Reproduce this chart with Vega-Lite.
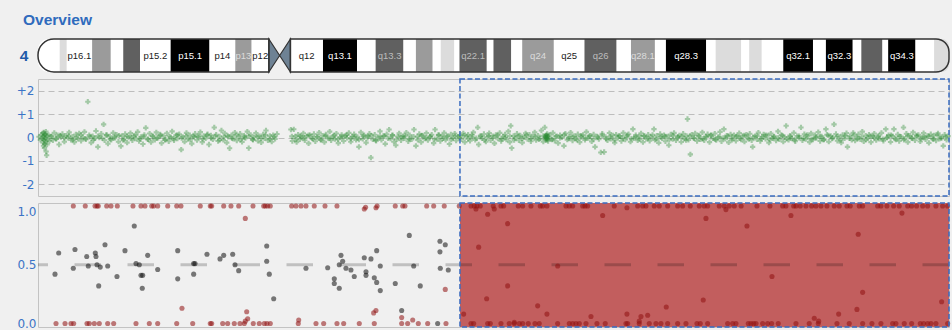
{
"$schema":"https://vega.github.io/schema/vega-lite/v6.json",
"background":"#f0f0f0",
"padding":{"left":7,"top":13,"right":0,"bottom":0},
"title":{"text":"Overview","anchor":"start","font":"Liberation Sans","fontSize":15.5,"fontWeight":"bold","color":"#2f6bbd","dx":15.5,"offset":8},
"bounds":"flush",
"spacing":7,
"resolve":{"scale":{"color":"independent","fill":"independent"}},
"config":{"view":{"stroke":"#c3c3c3","fill":"#f0f0f0"},"axis":{"labelFont":"DejaVu Sans","labelFontSize":12,"labelColor":"#3b74c6","ticks":false,"domain":false,"labelOverlap":false}},
"datasets":{
"bands":[
{"s":0,"e":4.5,"n":"p16.3","t":"gneg"},{"s":4.5,"e":6.0,"n":"p16.2","t":"gpos25"},{"s":6.0,"e":11.3,"n":"p16.1","t":"gneg"},{"s":11.3,"e":15.2,"n":"p15.33","t":"gpos50"},{"s":15.2,"e":17.8,"n":"p15.32","t":"gneg"},{"s":17.8,"e":21.3,"n":"p15.31","t":"gpos75"},{"s":21.3,"e":27.7,"n":"p15.2","t":"gneg"},{"s":27.7,"e":35.8,"n":"p15.1","t":"gpos100"},{"s":35.8,"e":41.2,"n":"p14","t":"gneg"},{"s":41.2,"e":44.6,"n":"p13","t":"gpos50"},{"s":44.6,"e":48.2,"n":"p12","t":"gneg"},
{"s":52.7,"e":59.5,"n":"q12","t":"gneg"},{"s":59.5,"e":66.6,"n":"q13.1","t":"gpos100"},{"s":66.6,"e":70.5,"n":"q13.2","t":"gneg"},{"s":70.5,"e":76.3,"n":"q13.3","t":"gpos75"},{"s":76.3,"e":78.9,"n":"q21.1","t":"gneg"},{"s":78.9,"e":82.4,"n":"q21.21","t":"gpos50"},{"s":82.4,"e":84.1,"n":"q21.22","t":"gneg"},{"s":84.1,"e":86.9,"n":"q21.23","t":"gpos25"},{"s":86.9,"e":88.0,"n":"q21.3","t":"gneg"},{"s":88.0,"e":93.7,"n":"q22.1","t":"gpos75"},{"s":93.7,"e":95.1,"n":"q22.2","t":"gneg"},{"s":95.1,"e":98.8,"n":"q22.3","t":"gpos75"},{"s":98.8,"e":101.1,"n":"q23","t":"gneg"},{"s":101.1,"e":107.7,"n":"q24","t":"gpos50"},{"s":107.7,"e":114.1,"n":"q25","t":"gneg"},{"s":114.1,"e":120.8,"n":"q26","t":"gpos75"},{"s":120.8,"e":123.8,"n":"q27","t":"gneg"},{"s":123.8,"e":128.8,"n":"q28.1","t":"gpos50"},{"s":128.8,"e":131.1,"n":"q28.2","t":"gneg"},{"s":131.1,"e":139.5,"n":"q28.3","t":"gpos100"},{"s":139.5,"e":141.5,"n":"q31.1","t":"gneg"},{"s":141.5,"e":146.8,"n":"q31.21","t":"gpos25"},{"s":146.8,"e":148.5,"n":"q31.22","t":"gneg"},{"s":148.5,"e":151.1,"n":"q31.23","t":"gpos25"},{"s":151.1,"e":155.6,"n":"q31.3","t":"gneg"},{"s":155.6,"e":161.8,"n":"q32.1","t":"gpos100"},{"s":161.8,"e":164.5,"n":"q32.2","t":"gneg"},{"s":164.5,"e":170.1,"n":"q32.3","t":"gpos100"},{"s":170.1,"e":171.9,"n":"q33","t":"gneg"},{"s":171.9,"e":176.3,"n":"q34.1","t":"gpos75"},{"s":176.3,"e":177.5,"n":"q34.2","t":"gneg"},{"s":177.5,"e":183.2,"n":"q34.3","t":"gpos100"},{"s":183.2,"e":187.1,"n":"q35.1","t":"gneg"},{"s":187.1,"e":190.2,"n":"q35.2","t":"gpos25"}],
"labels":[{"n":"p16.1","m":8.65,"t":"gneg"},{"n":"p15.2","m":24.5,"t":"gneg"},{"n":"p15.1","m":31.75,"t":"gpos100"},{"n":"p14","m":38.5,"t":"gneg"},{"n":"p13","m":42.9,"t":"gpos50"},{"n":"p12","m":46.4,"t":"gneg"},{"n":"q12","m":56.1,"t":"gneg"},{"n":"q13.1","m":63.05,"t":"gpos100"},{"n":"q13.3","m":73.4,"t":"gpos75"},{"n":"q22.1","m":90.85,"t":"gpos75"},{"n":"q24","m":104.4,"t":"gpos50"},{"n":"q25","m":110.9,"t":"gneg"},{"n":"q26","m":117.45,"t":"gpos75"},{"n":"q28.1","m":126.3,"t":"gpos50"},{"n":"q28.3","m":135.3,"t":"gpos100"},{"n":"q32.1","m":158.7,"t":"gpos100"},{"n":"q32.3","m":167.3,"t":"gpos100"},{"n":"q34.3","m":180.35,"t":"gpos100"}],
"lr":[
{"p":0.2,"v":0.03},{"p":0.5,"v":-0.1},{"p":0.7,"v":0.12},{"p":0.9,"v":-0.05},{"p":1.0,"v":0.18},{"p":1.05,"v":-0.22},{"p":1.1,"v":0.06},{"p":1.15,"v":-0.35},{"p":1.2,"v":0.22},{"p":1.25,"v":-0.12},{"p":1.3,"v":0.0},{"p":1.35,"v":-0.45},{"p":1.4,"v":0.1},{"p":1.45,"v":-0.28},{"p":1.5,"v":0.15},{"p":1.55,"v":-0.05},{"p":1.6,"v":-0.18},{"p":1.65,"v":0.25},{"p":1.7,"v":-0.6},{"p":1.8,"v":-0.76},{"p":1.85,"v":0.08},{"p":1.9,"v":-0.3},{"p":2.0,"v":-0.08},{"p":2.2,"v":0.1},{"p":2.4,"v":-0.15},
{"p":2.7,"v":0.05},{"p":3.1,"v":-0.12},{"p":3.4,"v":0.2},{"p":3.8,"v":-0.05},{"p":4.1,"v":0.1},{"p":4.4,"v":-0.3},{"p":4.8,"v":0.02},{"p":5.1,"v":0.15},{"p":5.5,"v":-0.18},{"p":5.8,"v":0.08},{"p":6.2,"v":-0.02},{"p":6.5,"v":0.22},{"p":6.9,"v":-0.1},{"p":7.2,"v":0.04},{"p":7.6,"v":-0.2},{"p":7.9,"v":0.13},{"p":8.3,"v":-0.06},{"p":8.6,"v":0.18},{"p":9.0,"v":-0.14},{"p":9.3,"v":0.01},{"p":9.7,"v":0.24},{"p":10.0,"v":-0.08},{"p":10.4,"v":1.53},{"p":10.7,"v":0.1},{"p":11.1,"v":-0.22},{"p":11.4,"v":0.06},{"p":11.8,"v":-0.04},{"p":12.1,"v":0.28},{"p":12.5,"v":-0.4},{"p":12.8,"v":0.0},{"p":13.2,"v":0.16},{"p":13.7,"v":0.56},{"p":13.9,"v":-0.12},{"p":14.3,"v":0.09},{"p":14.6,"v":-0.26},{"p":15.0,"v":0.05},{"p":15.3,"v":-0.1},{"p":15.7,"v":0.2},{"p":16.0,"v":-0.03},{"p":16.4,"v":0.12},{"p":16.8,"v":-0.18},{"p":17.3,"v":-0.37},{"p":17.5,"v":0.07},{"p":17.9,"v":-0.08},{"p":18.2,"v":0.15},{"p":18.6,"v":-0.22},{"p":18.9,"v":0.02},{"p":19.3,"v":0.19},{"p":19.7,"v":-0.12},{"p":20.0,"v":0.08},{"p":20.4,"v":-0.05},{"p":20.8,"v":0.24},{"p":21.1,"v":-0.15},{"p":21.5,"v":0.03},{"p":21.9,"v":-0.28},{"p":22.2,"v":0.11},{"p":22.5,"v":0.41},{"p":22.9,"v":-0.07},{"p":23.3,"v":0.17},{"p":23.6,"v":-0.2},{"p":24.0,"v":0.04},{"p":24.4,"v":-0.1},{"p":24.7,"v":0.22},{"p":25.1,"v":-0.02},{"p":25.5,"v":0.13},{"p":25.8,"v":-0.24},{"p":26.2,"v":0.06},{"p":26.6,"v":-0.09},{"p":26.9,"v":0.18},{"p":27.3,"v":-0.16},{"p":27.7,"v":0.01},{"p":28.0,"v":0.26},{"p":28.4,"v":-0.12},{"p":28.8,"v":0.09},{"p":29.1,"v":-0.05},{"p":29.5,"v":0.14},{"p":29.9,"v":-0.52},{"p":30.2,"v":0.03},{"p":30.6,"v":-0.18},{"p":31.0,"v":0.2},{"p":31.3,"v":-0.07},{"p":31.7,"v":0.1},{"p":32.1,"v":-0.26},{"p":32.4,"v":0.05},{"p":32.8,"v":0.16},{"p":33.2,"v":-0.11},{"p":33.5,"v":0.02},{"p":33.9,"v":0.23},{"p":34.3,"v":-0.2},{"p":34.6,"v":0.07},{"p":35.0,"v":-0.04},{"p":35.4,"v":0.14},{"p":35.7,"v":-0.3},{"p":36.1,"v":0.09},{"p":36.5,"v":-0.08},{"p":36.8,"v":0.43},{"p":37.2,"v":0.12},{"p":37.6,"v":-0.15},{"p":37.9,"v":0.05},{"p":38.3,"v":0.3},{"p":38.7,"v":-0.1},{"p":39.0,"v":0.18},{"p":39.4,"v":-0.22},{"p":39.7,"v":0.03},{"p":40.0,"v":-0.46},{"p":40.4,"v":0.1},{"p":40.8,"v":-0.06},{"p":41.1,"v":0.21},{"p":41.5,"v":-0.13},{"p":41.9,"v":0.04},{"p":42.2,"v":0.16},{"p":42.6,"v":-0.19},{"p":43.0,"v":0.08},{"p":43.3,"v":-0.03},{"p":43.7,"v":0.25},{"p":44.0,"v":-0.45},{"p":44.4,"v":0.11},{"p":44.8,"v":-0.08},{"p":45.1,"v":0.02},{"p":45.5,"v":0.19},{"p":45.9,"v":-0.14},{"p":46.2,"v":0.06},{"p":46.6,"v":-0.21},{"p":47.0,"v":0.13},{"p":47.3,"v":-0.04},{"p":47.6,"v":0.3},{"p":48.0,"v":-0.12},{"p":48.4,"v":0.07},{"p":48.8,"v":-0.18},{"p":49.1,"v":0.1},{"p":49.5,"v":-0.06},{"p":49.9,"v":0.15},
{"p":52.8,"v":0.34},{"p":53.1,"v":-0.15},{"p":53.4,"v":0.35},{"p":53.7,"v":0.05},{"p":54.0,"v":-0.2},{"p":54.3,"v":0.12},{"p":54.7,"v":-0.08},{"p":55.0,"v":0.02},{"p":55.4,"v":0.18},{"p":55.7,"v":-0.12},{"p":56.1,"v":0.06},{"p":56.5,"v":-0.25},{"p":56.8,"v":0.1},{"p":57.2,"v":-0.04},{"p":57.6,"v":0.15},{"p":57.9,"v":-0.16},{"p":58.3,"v":0.03},{"p":58.7,"v":0.21},{"p":59.0,"v":-0.09},{"p":59.4,"v":0.08},{"p":59.8,"v":-0.2},{"p":60.1,"v":0.13},{"p":60.5,"v":-0.03},{"p":60.9,"v":0.25},{"p":61.2,"v":-0.12},{"p":61.6,"v":0.05},{"p":62.0,"v":-0.07},{"p":62.3,"v":0.17},{"p":62.7,"v":-0.24},{"p":63.1,"v":0.01},{"p":63.4,"v":0.11},{"p":63.8,"v":-0.15},{"p":64.2,"v":0.07},{"p":64.5,"v":-0.02},{"p":64.9,"v":0.2},{"p":65.3,"v":-0.18},{"p":65.6,"v":0.04},{"p":66.0,"v":0.14},{"p":66.4,"v":-0.1},{"p":66.7,"v":0.03},{"p":67.0,"v":-0.4},{"p":67.4,"v":0.22},{"p":67.8,"v":-0.06},{"p":68.1,"v":0.1},{"p":68.5,"v":-0.22},{"p":68.9,"v":0.05},{"p":69.2,"v":0.16},{"p":69.5,"v":-0.86},{"p":69.9,"v":-0.08},{"p":70.3,"v":0.12},{"p":70.6,"v":-0.14},{"p":71.0,"v":0.02},{"p":71.4,"v":0.26},{"p":71.7,"v":-0.1},{"p":72.1,"v":0.07},{"p":72.5,"v":-0.27},{"p":72.8,"v":0.14},{"p":73.3,"v":0.34},{"p":73.6,"v":-0.05},{"p":74.0,"v":0.09},{"p":74.3,"v":-0.18},{"p":74.7,"v":-0.33},{"p":75.1,"v":0.04},{"p":75.4,"v":0.18},{"p":75.8,"v":-0.12},{"p":76.2,"v":0.06},{"p":76.5,"v":-0.04},{"p":76.9,"v":0.21},{"p":77.3,"v":-0.16},{"p":77.6,"v":0.1},{"p":78.0,"v":-0.08},{"p":78.5,"v":0.34},{"p":78.9,"v":-0.36},{"p":79.2,"v":0.03},{"p":79.6,"v":0.15},{"p":80.0,"v":-0.2},{"p":80.3,"v":0.08},{"p":80.7,"v":-0.05},{"p":81.1,"v":0.19},{"p":81.4,"v":-0.11},{"p":81.8,"v":0.02},{"p":82.2,"v":0.12},{"p":82.6,"v":-0.24},{"p":82.9,"v":0.34},{"p":83.3,"v":-0.07},{"p":83.7,"v":0.1},{"p":84.0,"v":-0.15},{"p":84.4,"v":0.05},{"p":84.8,"v":0.2},{"p":85.1,"v":-0.1},{"p":85.5,"v":0.07},{"p":85.9,"v":-0.28},{"p":86.2,"v":0.13},{"p":86.6,"v":-0.02},{"p":87.0,"v":0.17},{"p":87.3,"v":-0.13},{"p":87.7,"v":0.04},
{"p":88.1,"v":0.1},{"p":88.4,"v":-0.08},{"p":88.8,"v":0.18},{"p":89.1,"v":-0.2},{"p":89.5,"v":0.05},{"p":89.8,"v":0.12},{"p":90.2,"v":-0.14},{"p":90.6,"v":0.02},{"p":90.9,"v":0.22},{"p":91.3,"v":-0.1},{"p":91.8,"v":0.43},{"p":92.0,"v":-0.3},{"p":92.4,"v":0.08},{"p":92.7,"v":-0.04},{"p":93.1,"v":0.15},{"p":93.5,"v":-0.18},{"p":93.8,"v":0.03},{"p":94.2,"v":0.19},{"p":94.5,"v":-0.12},{"p":94.9,"v":0.06},{"p":95.3,"v":-0.25},{"p":95.6,"v":0.11},{"p":96.0,"v":-0.05},{"p":96.4,"v":0.2},{"p":96.7,"v":-0.15},{"p":97.1,"v":0.04},{"p":97.5,"v":0.13},{"p":97.8,"v":-0.09},{"p":98.2,"v":0.26},{"p":98.5,"v":-0.2},{"p":98.7,"v":0.5},{"p":98.9,"v":-0.45},{"p":99.3,"v":0.07},{"p":99.6,"v":-0.03},{"p":100.0,"v":0.16},{"p":100.4,"v":-0.12},{"p":100.7,"v":0.09},{"p":101.1,"v":-0.22},{"p":101.5,"v":0.02},{"p":101.8,"v":0.18},{"p":102.2,"v":-0.07},{"p":102.6,"v":0.12},{"p":102.9,"v":-0.16},{"p":103.3,"v":0.05},{"p":103.7,"v":0.22},{"p":104.0,"v":-0.11},{"p":104.4,"v":0.08},{"p":104.8,"v":-0.04},{"p":105.1,"v":0.3},{"p":105.5,"v":-0.18},{"p":105.8,"v":0.43},{"p":105.9,"v":0.05},{"p":106.0,"v":-0.05},{"p":106.05,"v":0.1},{"p":106.1,"v":0.0},{"p":106.15,"v":-0.12},{"p":106.2,"v":0.08},{"p":106.25,"v":-0.02},{"p":106.3,"v":0.15},{"p":106.35,"v":-0.08},{"p":106.4,"v":0.03},{"p":106.5,"v":-0.15},{"p":106.8,"v":0.12},{"p":107.2,"v":-0.06},{"p":107.5,"v":0.2},{"p":107.9,"v":-0.14},{"p":108.3,"v":0.06},{"p":108.6,"v":-0.24},{"p":109.0,"v":0.1},{"p":109.4,"v":0.01},{"p":109.8,"v":-0.36},{"p":110.1,"v":0.17},{"p":110.5,"v":-0.09},{"p":110.9,"v":0.04},{"p":111.2,"v":0.21},{"p":111.6,"v":-0.13},{"p":112.0,"v":0.07},{"p":112.3,"v":-0.05},{"p":112.7,"v":0.14},{"p":113.1,"v":-0.2},{"p":113.4,"v":0.02},{"p":113.8,"v":0.11},{"p":114.2,"v":-0.1},{"p":114.5,"v":0.24},{"p":114.9,"v":-0.03},{"p":115.3,"v":0.08},{"p":115.6,"v":-0.17},{"p":116.0,"v":0.13},{"p":116.3,"v":-0.4},{"p":116.7,"v":0.05},{"p":117.1,"v":-0.07},{"p":117.5,"v":-0.64},{"p":117.8,"v":0.16},{"p":118.2,"v":-0.62},{"p":118.5,"v":0.03},{"p":118.9,"v":-0.12},{"p":119.3,"v":0.19},{"p":119.6,"v":-0.06},{"p":120.0,"v":0.09},{"p":120.4,"v":-0.22},{"p":120.7,"v":0.12},{"p":121.1,"v":-0.02},{"p":121.5,"v":0.06},{"p":121.8,"v":-0.15},{"p":122.2,"v":0.2},{"p":122.6,"v":-0.09},{"p":122.9,"v":0.03},{"p":123.3,"v":0.14},{"p":123.7,"v":-0.18},{"p":124.2,"v":0.36},{"p":124.4,"v":-0.04},{"p":124.8,"v":0.1},{"p":125.2,"v":-0.12},{"p":125.5,"v":0.05},{"p":125.9,"v":0.18},{"p":126.3,"v":-0.2},{"p":126.6,"v":0.07},{"p":127.0,"v":-0.06},{"p":127.4,"v":0.12},{"p":127.7,"v":-0.14},{"p":128.1,"v":0.02},{"p":128.6,"v":0.36},{"p":128.8,"v":-0.1},{"p":129.2,"v":0.08},{"p":129.6,"v":-0.23},{"p":129.9,"v":0.15},{"p":130.3,"v":-0.04},{"p":130.7,"v":0.1},{"p":131.0,"v":-0.16},{"p":131.4,"v":0.05},{"p":131.7,"v":-0.33},{"p":132.1,"v":0.13},{"p":132.5,"v":-0.07},{"p":132.8,"v":0.2},{"p":133.2,"v":-0.12},{"p":133.6,"v":0.03},{"p":133.9,"v":0.09},{"p":134.3,"v":-0.19},{"p":134.7,"v":0.16},{"p":135.0,"v":-0.05},{"p":135.4,"v":0.07},{"p":135.6,"v":0.79},{"p":135.8,"v":-0.1},{"p":136.2,"v":-0.72},{"p":136.5,"v":0.12},{"p":136.9,"v":-0.02},{"p":137.2,"v":0.18},{"p":137.6,"v":-0.15},{"p":138.0,"v":0.06},{"p":138.3,"v":-0.08},{"p":138.7,"v":0.22},{"p":139.1,"v":-0.12},{"p":139.4,"v":0.04},{"p":139.8,"v":0.14},{"p":140.2,"v":-0.2},{"p":140.5,"v":0.09},{"p":140.9,"v":-0.04},{"p":141.3,"v":0.17},{"p":141.6,"v":-0.11},{"p":142.0,"v":0.02},{"p":142.4,"v":0.24},{"p":142.7,"v":-0.16},{"p":143.2,"v":0.36},{"p":143.5,"v":-0.06},{"p":143.8,"v":0.08},{"p":144.2,"v":-0.21},{"p":144.6,"v":0.13},{"p":144.9,"v":-0.03},{"p":145.3,"v":0.1},{"p":145.7,"v":-0.14},{"p":146.0,"v":0.05},{"p":146.4,"v":0.19},{"p":146.8,"v":-0.09},{"p":147.1,"v":0.07},{"p":147.5,"v":-0.18},{"p":147.9,"v":0.12},{"p":148.2,"v":-0.02},{"p":148.6,"v":0.16},{"p":149.0,"v":-0.12},{"p":149.2,"v":-0.4},{"p":149.7,"v":0.06},{"p":150.1,"v":-0.08},{"p":150.4,"v":0.21},{"p":150.8,"v":-0.15},{"p":151.2,"v":0.03},{"p":151.5,"v":0.13},{"p":151.9,"v":-0.06},{"p":152.3,"v":0.09},{"p":152.6,"v":-0.22},{"p":153.0,"v":0.17},{"p":153.4,"v":-0.04},{"p":153.7,"v":0.05},{"p":154.1,"v":-0.13},{"p":154.5,"v":0.26},{"p":154.8,"v":-0.08},{"p":155.2,"v":0.11},{"p":155.6,"v":-0.18},{"p":155.9,"v":0.02},{"p":156.2,"v":0.5},{"p":156.7,"v":-0.1},{"p":157.0,"v":0.08},{"p":157.4,"v":-0.05},{"p":157.8,"v":0.2},{"p":158.1,"v":-0.16},{"p":158.5,"v":0.06},{"p":158.9,"v":-0.02},{"p":159.3,"v":0.43},{"p":159.6,"v":-0.12},{"p":160.0,"v":0.14},{"p":160.3,"v":-0.07},{"p":160.7,"v":0.04},{"p":161.1,"v":-0.2},{"p":161.4,"v":0.18},{"p":161.8,"v":-0.09},{"p":162.2,"v":0.1},{"p":162.5,"v":-0.03},{"p":162.9,"v":0.23},{"p":163.3,"v":-0.15},{"p":163.6,"v":0.05},{"p":164.0,"v":-0.1},{"p":164.5,"v":0.36},{"p":164.7,"v":0.12},{"p":165.1,"v":-0.18},{"p":165.5,"v":0.07},{"p":165.8,"v":-0.05},{"p":166.2,"v":0.56},{"p":166.6,"v":0.15},{"p":166.9,"v":-0.14},{"p":167.3,"v":0.03},{"p":167.7,"v":-0.22},{"p":168.0,"v":0.11},{"p":168.4,"v":-0.04},{"p":168.8,"v":0.19},{"p":169.0,"v":-0.4},{"p":169.5,"v":0.06},{"p":169.9,"v":-0.1},{"p":170.2,"v":0.2},{"p":170.6,"v":-0.13},{"p":171.0,"v":0.02},{"p":171.3,"v":0.14},{"p":171.7,"v":-0.08},{"p":172.1,"v":0.25},{"p":172.4,"v":-0.17},{"p":172.8,"v":0.08},{"p":173.2,"v":-0.03},{"p":173.5,"v":0.12},{"p":173.9,"v":-0.2},{"p":174.3,"v":0.05},{"p":174.6,"v":0.17},{"p":175.0,"v":-0.11},{"p":175.4,"v":0.03},{"p":175.7,"v":-0.06},{"p":176.1,"v":0.2},{"p":176.5,"v":-0.14},{"p":177.0,"v":0.36},{"p":177.2,"v":-0.02},{"p":177.6,"v":0.1},{"p":178.0,"v":-0.19},{"p":178.4,"v":0.06},{"p":178.7,"v":0.36},{"p":179.1,"v":-0.09},{"p":179.5,"v":0.13},{"p":179.8,"v":-0.15},{"p":180.2,"v":0.04},{"p":180.7,"v":0.43},{"p":180.9,"v":-0.05},{"p":181.3,"v":0.16},{"p":181.6,"v":-0.2},{"p":182.0,"v":0.08},{"p":182.4,"v":-0.03},{"p":182.7,"v":0.22},{"p":183.1,"v":-0.12},{"p":183.5,"v":0.05},{"p":183.8,"v":0.11},{"p":184.2,"v":-0.17},{"p":184.6,"v":0.02},{"p":184.9,"v":0.19},{"p":185.3,"v":-0.08},{"p":185.7,"v":0.07},{"p":186.0,"v":-0.23},{"p":186.4,"v":0.14},{"p":186.8,"v":-0.04},{"p":187.1,"v":0.09},{"p":187.5,"v":-0.13},{"p":187.9,"v":0.18},{"p":188.2,"v":-0.06},{"p":188.6,"v":0.03},{"p":189.0,"v":-0.36},{"p":189.3,"v":0.12},{"p":189.7,"v":-0.1},{"p":190.0,"v":0.06},
{"p":2.9,"v":0.04},{"p":3.8,"v":-0.06},{"p":4.6,"v":0.09},{"p":5.5,"v":-0.02},{"p":6.4,"v":0.07},{"p":7.3,"v":-0.09},{"p":8.1,"v":0.01},{"p":9.0,"v":0.11},{"p":9.9,"v":-0.05},{"p":10.8,"v":0.03},{"p":11.6,"v":-0.1},{"p":12.5,"v":0.06},{"p":13.4,"v":-0.03},{"p":14.3,"v":0.12},{"p":15.1,"v":-0.07},{"p":16.0,"v":0.02},{"p":16.9,"v":0.08},{"p":17.8,"v":-0.11},{"p":18.6,"v":0.05},{"p":19.5,"v":-0.01},{"p":20.4,"v":0.1},{"p":21.3,"v":-0.06},{"p":22.1,"v":0.03},{"p":23.0,"v":-0.08},{"p":23.9,"v":0.07},{"p":24.8,"v":-0.02},{"p":25.6,"v":0.09},{"p":26.5,"v":-0.1},{"p":27.4,"v":0.04},{"p":28.3,"v":-0.05},{"p":29.1,"v":0.11},{"p":30.0,"v":-0.03},{"p":30.9,"v":0.06},{"p":31.8,"v":-0.09},{"p":32.6,"v":0.02},{"p":33.5,"v":0.08},{"p":34.4,"v":-0.06},{"p":35.3,"v":0.1},{"p":36.1,"v":-0.02},{"p":37.0,"v":0.05},{"p":37.9,"v":-0.11},{"p":38.8,"v":0.03},{"p":39.6,"v":0.07},{"p":40.5,"v":-0.04},{"p":41.4,"v":0.09},{"p":42.3,"v":-0.08},{"p":43.1,"v":0.01},{"p":44.0,"v":0.06},{"p":44.9,"v":-0.1},{"p":45.8,"v":0.04},{"p":46.6,"v":-0.03},{"p":47.5,"v":0.1},{"p":48.4,"v":-0.07},{"p":49.3,"v":0.02},{"p":53.0,"v":0.05},{"p":53.9,"v":-0.08},{"p":54.8,"v":0.07},{"p":55.6,"v":-0.02},{"p":56.5,"v":0.1},{"p":57.4,"v":-0.06},{"p":58.3,"v":0.03},{"p":59.1,"v":-0.1},{"p":60.0,"v":0.06},{"p":60.9,"v":-0.03},{"p":61.8,"v":0.09},{"p":62.6,"v":-0.07},{"p":63.5,"v":0.02},{"p":64.4,"v":0.11},{"p":65.3,"v":-0.05},{"p":66.1,"v":0.04},{"p":67.0,"v":-0.09},{"p":67.9,"v":0.07},{"p":68.8,"v":-0.01},{"p":69.6,"v":0.08},{"p":70.5,"v":-0.11},{"p":71.4,"v":0.03},{"p":72.3,"v":0.06},{"p":73.1,"v":-0.04},{"p":74.0,"v":0.1},{"p":74.9,"v":-0.08},{"p":75.8,"v":0.02},{"p":76.6,"v":0.07},{"p":77.5,"v":-0.06},{"p":78.4,"v":0.04},{"p":79.3,"v":-0.1},{"p":80.1,"v":0.09},{"p":81.0,"v":-0.02},{"p":81.9,"v":0.05},{"p":82.8,"v":-0.07},{"p":83.6,"v":0.11},{"p":84.5,"v":-0.04},{"p":85.4,"v":0.03},{"p":86.3,"v":-0.09},{"p":87.1,"v":0.06},{"p":88.0,"v":-0.01},{"p":88.9,"v":0.08},{"p":89.8,"v":-0.06},{"p":90.6,"v":0.1},{"p":91.5,"v":-0.03},{"p":92.4,"v":0.04},{"p":93.3,"v":-0.1},{"p":94.1,"v":0.07},{"p":95.0,"v":-0.02},{"p":95.9,"v":0.09},{"p":96.8,"v":-0.07},{"p":97.6,"v":0.01},{"p":98.5,"v":0.06},{"p":99.4,"v":-0.11},{"p":100.3,"v":0.05},{"p":101.1,"v":-0.04},{"p":102.0,"v":0.1},{"p":102.9,"v":-0.06},{"p":103.8,"v":0.03},{"p":104.6,"v":-0.08},{"p":105.5,"v":0.07},{"p":106.0,"v":0.02},{"p":106.2,"v":-0.04},{"p":106.4,"v":0.06},{"p":107.3,"v":-0.09},{"p":108.1,"v":0.04},{"p":109.0,"v":-0.02},{"p":109.9,"v":0.11},{"p":110.8,"v":-0.05},{"p":111.6,"v":0.03},{"p":112.5,"v":-0.1},{"p":113.4,"v":0.08},{"p":114.3,"v":-0.03},{"p":115.1,"v":0.06},{"p":116.0,"v":-0.07},{"p":116.9,"v":0.01},{"p":117.8,"v":0.09},{"p":118.6,"v":-0.06},{"p":119.5,"v":0.04},{"p":120.4,"v":-0.1},{"p":121.3,"v":0.07},{"p":122.1,"v":-0.02},{"p":123.0,"v":0.1},{"p":123.9,"v":-0.05},{"p":124.8,"v":0.03},{"p":125.6,"v":-0.08},{"p":126.5,"v":0.06},{"p":127.4,"v":-0.03},{"p":128.3,"v":0.11},{"p":129.1,"v":-0.07},{"p":130.0,"v":0.02},{"p":130.9,"v":0.05},{"p":131.8,"v":-0.09},{"p":132.6,"v":0.08},{"p":133.5,"v":-0.01},{"p":134.4,"v":0.04},{"p":135.3,"v":-0.11},{"p":136.1,"v":0.07},{"p":137.0,"v":-0.04},{"p":137.9,"v":0.09},{"p":138.8,"v":-0.06},{"p":139.6,"v":0.02},{"p":140.5,"v":0.1},{"p":141.4,"v":-0.08},{"p":142.3,"v":0.03},{"p":143.1,"v":-0.02},{"p":144.0,"v":0.06},{"p":144.9,"v":-0.1},{"p":145.8,"v":0.05},{"p":146.6,"v":-0.04},{"p":147.5,"v":0.09},{"p":148.4,"v":-0.07},{"p":149.3,"v":0.01},{"p":150.1,"v":0.07},{"p":151.0,"v":-0.05},{"p":151.9,"v":0.1},{"p":152.8,"v":-0.09},{"p":153.6,"v":0.03},{"p":154.5,"v":-0.02},{"p":155.4,"v":0.08},{"p":156.3,"v":-0.06},{"p":157.1,"v":0.04},{"p":158.0,"v":-0.1},{"p":158.9,"v":0.06},{"p":159.8,"v":-0.03},{"p":160.6,"v":0.11},{"p":161.5,"v":-0.07},{"p":162.4,"v":0.02},{"p":163.3,"v":0.05},{"p":164.1,"v":-0.08},{"p":165.0,"v":0.09},{"p":165.9,"v":-0.01},{"p":166.8,"v":0.04},{"p":167.6,"v":-0.11},{"p":168.5,"v":0.07},{"p":169.4,"v":-0.04},{"p":170.3,"v":0.1},{"p":171.1,"v":-0.06},{"p":172.0,"v":0.03},{"p":172.9,"v":-0.09},{"p":173.8,"v":0.06},{"p":174.6,"v":-0.02},{"p":175.5,"v":0.08},{"p":176.4,"v":-0.07},{"p":177.3,"v":0.01},{"p":178.1,"v":0.1},{"p":179.0,"v":-0.05},{"p":179.9,"v":0.04},{"p":180.8,"v":-0.1},{"p":181.6,"v":0.07},{"p":182.5,"v":-0.03},{"p":183.4,"v":0.09},{"p":184.3,"v":-0.06},{"p":185.1,"v":0.02},{"p":186.0,"v":0.05},{"p":186.9,"v":-0.08},{"p":187.8,"v":0.11},{"p":188.6,"v":-0.04},{"p":189.5,"v":0.03}],
"baf":[
{"p":7.37,"v":1,"g":"hom"},{"p":9.87,"v":1,"g":"hom"},{"p":11.9,"v":1,"g":"hom"},{"p":12.32,"v":1,"g":"hom"},{"p":12.59,"v":1,"g":"hom"},{"p":14.34,"v":1,"g":"hom"},{"p":15.24,"v":1,"g":"hom"},{"p":16.56,"v":1,"g":"hom"},{"p":19.83,"v":1,"g":"hom"},{"p":21.5,"v":1,"g":"hom"},{"p":22.34,"v":1,"g":"hom"},{"p":23.74,"v":1,"g":"hom"},{"p":24.15,"v":1,"g":"hom"},{"p":24.99,"v":1,"g":"hom"},{"p":27.08,"v":1,"g":"hom"},{"p":28.96,"v":1,"g":"hom"},{"p":29.85,"v":1,"g":"hom"},{"p":33.88,"v":1,"g":"hom"},{"p":35.97,"v":1,"g":"hom"},{"p":36.26,"v":1,"g":"hom"},{"p":38.77,"v":1,"g":"hom"},{"p":40.29,"v":1,"g":"hom"},{"p":41.9,"v":1,"g":"hom"},{"p":44.89,"v":1,"g":"hom"},{"p":47.12,"v":1,"g":"hom"},{"p":47.45,"v":1,"g":"hom"},{"p":47.95,"v":1,"g":"hom"},{"p":48.5,"v":1,"g":"hom"},{"p":52.96,"v":1,"g":"hom"},{"p":53.86,"v":1,"g":"hom"},{"p":54.91,"v":1,"g":"hom"},{"p":55.95,"v":1,"g":"hom"},{"p":57.68,"v":1,"g":"hom"},{"p":59.92,"v":1,"g":"hom"},{"p":62.42,"v":1,"g":"hom"},{"p":68.12,"v":0.975,"g":"hom"},{"p":68.4,"v":0.99,"g":"hom"},{"p":70.56,"v":0.985,"g":"hom"},{"p":70.8,"v":1,"g":"hom"},{"p":74.59,"v":1,"g":"hom"},{"p":76.14,"v":1,"g":"hom"},{"p":76.62,"v":1,"g":"hom"},{"p":81.15,"v":1,"g":"hom"},{"p":82.61,"v":1,"g":"hom"},{"p":84.82,"v":1,"g":"hom"},{"p":87.95,"v":1,"g":"hom"},
{"p":3.76,"v":0,"g":"hom"},{"p":5.64,"v":0,"g":"hom"},{"p":6.89,"v":0,"g":"hom"},{"p":7.45,"v":0,"g":"hom"},{"p":10.23,"v":0,"g":"hom"},{"p":10.71,"v":0,"g":"hom"},{"p":11.75,"v":0,"g":"hom"},{"p":12.8,"v":0,"g":"hom"},{"p":14.55,"v":0,"g":"hom"},{"p":15.8,"v":0,"g":"hom"},{"p":20.46,"v":0,"g":"hom"},{"p":23.24,"v":0,"g":"hom"},{"p":24.99,"v":0,"g":"hom"},{"p":28.96,"v":0,"g":"hom"},{"p":32.3,"v":0,"g":"hom"},{"p":35.97,"v":0,"g":"hom"},{"p":36.26,"v":0,"g":"hom"},{"p":38.56,"v":0,"g":"hom"},{"p":39.6,"v":0,"g":"hom"},{"p":40.98,"v":0,"g":"hom"},{"p":42.17,"v":0,"g":"hom"},{"p":43.07,"v":0,"g":"hom"},{"p":44.95,"v":0,"g":"hom"},{"p":46.2,"v":0,"g":"hom"},{"p":47.24,"v":0,"g":"hom"},{"p":47.81,"v":0,"g":"hom"},{"p":48.5,"v":0,"g":"hom"},{"p":54.34,"v":0,"g":"hom"},{"p":58.04,"v":0,"g":"hom"},{"p":59.64,"v":0,"g":"hom"},{"p":62.42,"v":0,"g":"hom"},{"p":63.82,"v":0,"g":"hom"},{"p":67.08,"v":0,"g":"hom"},{"p":70.21,"v":0,"g":"hom"},{"p":75.93,"v":0,"g":"hom"},{"p":77.18,"v":0,"g":"hom"},{"p":79.4,"v":0,"g":"hom"},{"p":81.36,"v":0,"g":"hom"},{"p":83.44,"v":0,"g":"het"},{"p":85.18,"v":0,"g":"hom"},
{"p":3.55,"v":0.42,"g":"het"},{"p":4.32,"v":0.6,"g":"het"},{"p":7.37,"v":0.47,"g":"het"},{"p":7.72,"v":0.63,"g":"het"},{"p":10.17,"v":0.57,"g":"het"},{"p":10.5,"v":0.49,"g":"het"},{"p":11.96,"v":0.6,"g":"het"},{"p":12.11,"v":0.57,"g":"het"},{"p":12.32,"v":0.5,"g":"het"},{"p":13.0,"v":0.48,"g":"het"},{"p":12.67,"v":0.32,"g":"het"},{"p":13.99,"v":0.67,"g":"het"},{"p":14.55,"v":0.49,"g":"het"},{"p":16.49,"v":0.4,"g":"het"},{"p":18.16,"v":0.62,"g":"het"},{"p":20.1,"v":0.83,"g":"het"},{"p":20.46,"v":0.51,"g":"het"},{"p":21.15,"v":0.5,"g":"het"},{"p":21.5,"v":0.41,"g":"het"},{"p":21.86,"v":0.41,"g":"het"},{"p":21.77,"v":0.3,"g":"het"},{"p":22.9,"v":0.58,"g":"het"},{"p":24.99,"v":0.46,"g":"het"},{"p":29.17,"v":0.62,"g":"het"},{"p":29.17,"v":0.38,"g":"het"},{"p":32.5,"v":0.51,"g":"het"},{"p":32.78,"v":0.51,"g":"het"},{"p":32.5,"v":0.42,"g":"het"},{"p":35.28,"v":0.59,"g":"het"},{"p":38.0,"v":0.55,"g":"het"},{"p":38.77,"v":0.58,"g":"het"},{"p":40.65,"v":0.59,"g":"het"},{"p":41.13,"v":0.5,"g":"het"},{"p":41.9,"v":0.45,"g":"het"},{"p":47.75,"v":0.66,"g":"het"},{"p":47.75,"v":0.53,"g":"het"},{"p":48.29,"v":0.42,"g":"het"},{"p":49.21,"v":0.21,"g":"het"},{"p":55.95,"v":0.47,"g":"het"},{"p":60.48,"v":0.475,"g":"het"},{"p":63.26,"v":0.58,"g":"het"},{"p":62.9,"v":0.5,"g":"het"},{"p":63.61,"v":0.53,"g":"het"},{"p":64.3,"v":0.47,"g":"het"},{"p":65.34,"v":0.455,"g":"het"},{"p":61.86,"v":0.38,"g":"het"},{"p":61.86,"v":0.34,"g":"het"},{"p":62.9,"v":0.3,"g":"het"},{"p":66.03,"v":0.4,"g":"het"},{"p":68.12,"v":0.56,"g":"het"},{"p":69.52,"v":0.55,"g":"het"},{"p":68.48,"v":0.44,"g":"het"},{"p":68.48,"v":0.41,"g":"het"},{"p":70.71,"v":0.62,"g":"het"},{"p":71.46,"v":0.49,"g":"het"},{"p":70.21,"v":0.39,"g":"het"},{"p":70.71,"v":0.35,"g":"het"},{"p":71.46,"v":0.28,"g":"het"},{"p":74.59,"v":0.34,"g":"het"},{"p":77.52,"v":0.75,"g":"het"},{"p":78.44,"v":0.49,"g":"het"},{"p":79.81,"v":0.32,"g":"het"},{"p":83.92,"v":0.7,"g":"het"},{"p":85.03,"v":0.67,"g":"het"},{"p":83.92,"v":0.61,"g":"het"},{"p":83.99,"v":0.47,"g":"het"},{"p":85.66,"v":0.455,"g":"het"},{"p":75.93,"v":0.11,"g":"het"},
{"p":43.28,"v":0.895,"g":"hom"},{"p":30.06,"v":0.13,"g":"hom"},{"p":43.57,"v":0.1,"g":"hom"},{"p":43.78,"v":0.04,"g":"hom"},{"p":43.28,"v":0.02,"g":"hom"},{"p":54.43,"v":0.03,"g":"hom"},{"p":85.03,"v":0.29,"g":"hom"},{"p":70.56,"v":0.11,"g":"hom"},{"p":70.08,"v":0.09,"g":"hom"},{"p":75.93,"v":0.05,"g":"hom"},{"p":78.23,"v":0.03,"g":"hom"},
{"p":90.4,"v":1,"g":"hom"},{"p":91.09,"v":1,"g":"hom"},{"p":91.65,"v":1,"g":"hom"},{"p":92.34,"v":1,"g":"hom"},{"p":95.05,"v":1,"g":"hom"},{"p":96.66,"v":1,"g":"hom"},{"p":97.22,"v":1,"g":"hom"},{"p":100.27,"v":1,"g":"hom"},{"p":101.19,"v":1,"g":"hom"},{"p":102.92,"v":1,"g":"hom"},{"p":104.86,"v":1,"g":"hom"},{"p":105.37,"v":1,"g":"hom"},{"p":106.26,"v":1,"g":"hom"},{"p":110.23,"v":1,"g":"hom"},{"p":110.92,"v":1,"g":"hom"},{"p":111.63,"v":1,"g":"hom"},{"p":113.72,"v":1,"g":"hom"},{"p":114.2,"v":1,"g":"hom"},{"p":114.76,"v":1,"g":"hom"},{"p":120.31,"v":1,"g":"hom"},{"p":125.2,"v":1,"g":"hom"},{"p":126.24,"v":1,"g":"hom"},{"p":126.93,"v":1,"g":"hom"},{"p":128.66,"v":1,"g":"hom"},{"p":129.71,"v":1,"g":"hom"},{"p":131.46,"v":1,"g":"hom"},{"p":133.55,"v":1,"g":"hom"},{"p":134.59,"v":1,"g":"hom"},{"p":136.18,"v":1,"g":"hom"},{"p":138.06,"v":1,"g":"hom"},{"p":139.1,"v":1,"g":"hom"},{"p":139.81,"v":1,"g":"hom"},{"p":142.23,"v":1,"g":"hom"},{"p":143.28,"v":1,"g":"hom"},{"p":144.32,"v":1,"g":"hom"},{"p":145.37,"v":1,"g":"hom"},{"p":146.8,"v":1,"g":"hom"},{"p":150.1,"v":1,"g":"hom"},{"p":152.82,"v":1,"g":"hom"},{"p":155.47,"v":1,"g":"hom"},{"p":156.16,"v":1,"g":"hom"},{"p":157.77,"v":1,"g":"hom"},{"p":158.25,"v":1,"g":"hom"},{"p":159.14,"v":1,"g":"hom"},{"p":160.33,"v":1,"g":"hom"},{"p":161.52,"v":1,"g":"hom"},{"p":162.42,"v":1,"g":"hom"},{"p":163.47,"v":1,"g":"hom"},{"p":164.72,"v":1,"g":"hom"},{"p":166.24,"v":1,"g":"hom"},{"p":167.29,"v":1,"g":"hom"},{"p":168.89,"v":1,"g":"hom"},{"p":169.58,"v":1,"g":"hom"},{"p":171.46,"v":1,"g":"hom"},{"p":172.17,"v":1,"g":"hom"},{"p":175.3,"v":1,"g":"hom"},{"p":175.99,"v":1,"g":"hom"},{"p":177.24,"v":1,"g":"hom"},{"p":178.64,"v":1,"g":"hom"},{"p":179.81,"v":1,"g":"hom"},{"p":181.57,"v":1,"g":"hom"},{"p":182.4,"v":1,"g":"hom"},{"p":183.44,"v":1,"g":"hom"},{"p":184.7,"v":1,"g":"hom"},{"p":185.74,"v":1,"g":"hom"},{"p":187.47,"v":1,"g":"hom"},{"p":188.87,"v":1,"g":"hom"},{"p":189.9,"v":1,"g":"hom"},
{"p":90.4,"v":0,"g":"hom"},{"p":90.96,"v":0,"g":"hom"},{"p":93.88,"v":0,"g":"hom"},{"p":94.43,"v":0,"g":"hom"},{"p":96.66,"v":0,"g":"hom"},{"p":98.39,"v":0,"g":"hom"},{"p":99.44,"v":0,"g":"hom"},{"p":100.48,"v":0,"g":"hom"},{"p":101.19,"v":0,"g":"hom"},{"p":102.36,"v":0,"g":"hom"},{"p":103.76,"v":0,"g":"hom"},{"p":104.65,"v":0,"g":"hom"},{"p":108.49,"v":0,"g":"hom"},{"p":110.92,"v":0,"g":"hom"},{"p":111.63,"v":0,"g":"hom"},{"p":112.32,"v":0,"g":"hom"},{"p":113.01,"v":0,"g":"hom"},{"p":114.41,"v":0,"g":"hom"},{"p":116.7,"v":0,"g":"hom"},{"p":118.43,"v":0,"g":"hom"},{"p":122.76,"v":0,"g":"hom"},{"p":123.11,"v":0,"g":"hom"},{"p":125.53,"v":0,"g":"hom"},{"p":127.62,"v":0,"g":"hom"},{"p":129.02,"v":0,"g":"hom"},{"p":130.06,"v":0,"g":"hom"},{"p":131.46,"v":0,"g":"hom"},{"p":133.55,"v":0,"g":"hom"},{"p":135.28,"v":0,"g":"hom"},{"p":137.58,"v":0,"g":"hom"},{"p":138.27,"v":0,"g":"hom"},{"p":139.81,"v":0,"g":"hom"},{"p":143.99,"v":0,"g":"hom"},{"p":145.03,"v":0,"g":"hom"},{"p":145.72,"v":0,"g":"hom"},{"p":148.29,"v":0,"g":"hom"},{"p":148.85,"v":0,"g":"hom"},{"p":149.42,"v":0,"g":"hom"},{"p":149.9,"v":0,"g":"hom"},{"p":151.29,"v":0,"g":"hom"},{"p":152.34,"v":0,"g":"hom"},{"p":153.17,"v":0,"g":"hom"},{"p":154.55,"v":0,"g":"hom"},{"p":158.25,"v":0,"g":"hom"},{"p":161.02,"v":0,"g":"hom"},{"p":162.9,"v":0,"g":"hom"},{"p":166.81,"v":0,"g":"hom"},{"p":169.37,"v":0,"g":"hom"},{"p":172.17,"v":0,"g":"hom"},{"p":174.11,"v":0,"g":"hom"},{"p":175.99,"v":0,"g":"hom"},{"p":178.43,"v":0,"g":"hom"},{"p":179.12,"v":0,"g":"hom"},{"p":180.86,"v":0,"g":"hom"},{"p":182.4,"v":0,"g":"hom"},{"p":184.2,"v":0,"g":"hom"},{"p":184.91,"v":0,"g":"hom"},{"p":185.74,"v":0,"g":"hom"},{"p":186.43,"v":0,"g":"hom"},{"p":187.47,"v":0,"g":"hom"},{"p":189.92,"v":0,"g":"hom"},
{"p":91.44,"v":0.975,"g":"hom"},{"p":95.26,"v":0.975,"g":"hom"},{"p":93.88,"v":0.93,"g":"hom"},{"p":98.06,"v":0.85,"g":"hom"},{"p":92.0,"v":0.65,"g":"hom"},{"p":108.5,"v":0.49,"g":"hom"},{"p":117.89,"v":0.92,"g":"hom"},{"p":122.96,"v":0.985,"g":"hom"},{"p":139.46,"v":0.895,"g":"hom"},{"p":143.63,"v":0.97,"g":"hom"},{"p":98.06,"v":0.32,"g":"hom"},{"p":93.67,"v":0.21,"g":"hom"},{"p":104.32,"v":0.15,"g":"hom"},{"p":106.26,"v":0.08,"g":"hom"},{"p":115.45,"v":0.06,"g":"hom"},{"p":122.96,"v":0.08,"g":"hom"},{"p":125.89,"v":0.06,"g":"hom"},{"p":127.29,"v":0.07,"g":"hom"},{"p":125.53,"v":0.02,"g":"hom"},{"p":131.17,"v":0.14,"g":"hom"},{"p":138.89,"v":0.2,"g":"hom"},{"p":88.87,"v":0.08,"g":"hom"},{"p":99.44,"v":0.01,"g":"hom"},{"p":148.02,"v":0.83,"g":"hom"},{"p":157.2,"v":0.92,"g":"hom"},{"p":171.25,"v":0.76,"g":"hom"},{"p":180.38,"v":0.94,"g":"hom"},{"p":153.24,"v":0.4,"g":"hom"},{"p":172.17,"v":0.265,"g":"hom"},{"p":170.98,"v":0.12,"g":"hom"},{"p":167.16,"v":0.08,"g":"hom"},{"p":162.07,"v":0.045,"g":"hom"},{"p":162.99,"v":0.02,"g":"hom"},{"p":188.66,"v":0.185,"g":"hom"}],
"sel":[{"a":88.1,"b":190.2}],
"mid":[{"h":0.5}]
},
"vconcat":[
{"width":911,"height":33,"view":{"stroke":null,"fill":null},
 "layer":[
  {"data":{"name":"bands"},"transform":[{"filter":"datum.n != 'p16.3' && datum.n != 'q35.2'"}],
   "mark":{"type":"rect"},
   "encoding":{"x":{"field":"s","type":"quantitative","scale":{"domain":[0,190.2],"nice":false,"zero":false},"axis":null},"x2":{"field":"e"},
    "y":{"datum":0,"type":"quantitative","scale":{"domain":[0,1],"nice":false,"zero":false},"axis":{"labels":false,"grid":false,"title":"4","titleAngle":0,"titleX":-14.5,"titleY":16,"titleBaseline":"middle","titleAlign":"center","titleFont":"Liberation Sans","titleFontSize":15.5,"titleFontWeight":"bold","titleColor":"#1f5aa8","minExtent":30,"maxExtent":30}},
    "y2":{"datum":1},
    "fill":{"field":"t","type":"nominal","scale":{"domain":["gneg","gpos25","gpos50","gpos75","gpos100"],"range":["#ffffff","#dcdcdc","#9b9b9b","#606060","#000000"]},"legend":null}}},
  {"data":{"name":"bands"},"transform":[{"filter":"datum.n == 'p16.3'"}],"mark":{"type":"rect","fill":"#ffffff","cornerRadiusTopLeft":16,"cornerRadiusBottomLeft":16},
   "encoding":{"x":{"field":"s","type":"quantitative"},"x2":{"field":"e"},"y":{"datum":0},"y2":{"datum":1}}},
  {"data":{"name":"bands"},"transform":[{"filter":"datum.n == 'q35.2'"}],"mark":{"type":"rect","fill":"#dcdcdc","cornerRadiusTopRight":13,"cornerRadiusBottomRight":13},
   "encoding":{"x":{"field":"s","type":"quantitative"},"x2":{"field":"e"},"y":{"datum":0},"y2":{"datum":1}}},
  {"data":{"values":[{"p":48.2,"lo":0,"hi":1},{"p":50.45,"lo":0.5,"hi":0.5},{"p":52.7,"lo":0,"hi":1}]},
   "mark":{"type":"area","fill":"#6e8294","stroke":"#333333","strokeWidth":1.2,"fillOpacity":1},
   "encoding":{"x":{"field":"p","type":"quantitative"},"y":{"field":"hi","type":"quantitative"},"y2":{"field":"lo"}}},
  {"data":{"values":[{"s":0,"e":48.2}]},"mark":{"type":"rect","fillOpacity":0,"stroke":"#333333","strokeWidth":1.5,"cornerRadiusTopLeft":16,"cornerRadiusBottomLeft":16},
   "encoding":{"x":{"field":"s","type":"quantitative"},"x2":{"field":"e"},"y":{"datum":0},"y2":{"datum":1}}},
  {"data":{"values":[{"s":52.7,"e":190.2}]},"mark":{"type":"rect","fillOpacity":0,"stroke":"#333333","strokeWidth":1.5,"cornerRadiusTopRight":13,"cornerRadiusBottomRight":13},
   "encoding":{"x":{"field":"s","type":"quantitative"},"x2":{"field":"e"},"y":{"datum":0},"y2":{"datum":1}}},
  {"data":{"name":"labels"},"mark":{"type":"text","font":"Liberation Sans","fontSize":9.5,"baseline":"middle","align":"center"},
   "encoding":{"x":{"field":"m","type":"quantitative"},"y":{"datum":0.5},"text":{"field":"n"},
    "color":{"field":"t","type":"nominal","scale":{"domain":["gneg","gpos50","gpos75","gpos100"],"range":["#1a1a1a","#dcdcdc","#bdbdbd","#ffffff"]},"legend":null}}}
 ]},
{"width":911,"height":117,
 "layer":[
  {"data":{"name":"lr"},"mark":{"type":"point","shape":"cross","filled":true,"size":28,"color":"#2e8b35","opacity":0.4},
   "encoding":{"x":{"field":"p","type":"quantitative","scale":{"domain":[0,190.2],"nice":false,"zero":false},"axis":null},
    "y":{"field":"v","type":"quantitative","scale":{"domain":[-2.5,2.5],"nice":false,"zero":false},"axis":{"values":[-2,-1,0,1,2],"grid":true,"gridDash":[6,4],"gridColor":"#bdbdbd","labelExpr":"datum.value > 0 ? '+' + datum.value : '' + datum.value","labelPadding":4,"labelOverlap":false,"minExtent":30,"maxExtent":30,"title":null}}}},
  {"data":{"name":"sel"},"mark":{"type":"rect","fillOpacity":0,"stroke":"#3a6cc0","strokeWidth":1.5,"strokeDash":[5,2.5]},
   "encoding":{"x":{"field":"a","type":"quantitative"},"x2":{"field":"b"},"y":{"datum":2.5,"type":"quantitative","axis":{"values":[-2,-1,0,1,2],"grid":true,"gridDash":[6,4],"gridColor":"#bdbdbd","labelExpr":"datum.value > 0 ? '+' + datum.value : '' + datum.value","labelPadding":4,"labelOverlap":false,"minExtent":30,"maxExtent":30,"title":null}},"y2":{"datum":-2.5}}}
 ]},
{"width":911,"height":124,
 "layer":[
  {"data":{"name":"sel"},"mark":{"type":"rect","fill":"#c25e5e"},
   "encoding":{"x":{"field":"a","type":"quantitative","scale":{"domain":[0,190.2],"nice":false,"zero":false},"axis":null},"x2":{"field":"b"},
    "y":{"datum":1.026,"type":"quantitative","scale":{"domain":[-0.03,1.026],"nice":false,"zero":false},"axis":{"values":[0,0.5,1],"format":".1f","labelPadding":2,"labelBaseline":{"condition":{"test":"datum.value == 1","value":"top"},"value":"middle"},"minExtent":30,"maxExtent":30,"title":null,"grid":false}},
    "y2":{"datum":-0.03}}},
  {"data":{"name":"mid"},"mark":{"type":"rule","strokeDash":[26.5,26.5],"strokeWidth":3,"color":"#000000","opacity":0.2},"encoding":{"y":{"field":"h","type":"quantitative"}}},
  {"data":{"name":"baf"},"mark":{"type":"circle","size":26,"opacity":0.55},
   "encoding":{"x":{"field":"p","type":"quantitative"},"y":{"field":"v","type":"quantitative"},
    "color":{"field":"g","type":"nominal","scale":{"domain":["het","hom"],"range":["#111111","#901010"]},"legend":null}}},
  {"data":{"name":"sel"},"mark":{"type":"rect","fillOpacity":0,"stroke":"#3a6cc0","strokeWidth":1.5,"strokeDash":[5,2.5]},
   "encoding":{"x":{"field":"a","type":"quantitative"},"x2":{"field":"b"},"y":{"datum":1.026},"y2":{"datum":-0.03}}}
 ]}
]
}
